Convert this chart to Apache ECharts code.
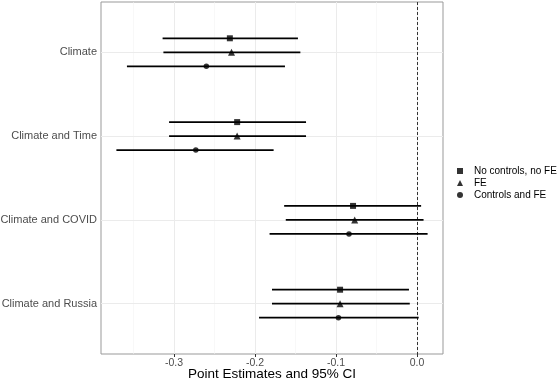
<!DOCTYPE html>
<html>
<head>
<meta charset="utf-8">
<script src="https://cdn.jsdelivr.net/npm/echarts@6/dist/echarts.min.js"></script>
<style>
  html, body { margin: 0; padding: 0; background: #fff; }
  #main { width: 560px; height: 382px; }
</style>
</head>
<body>
<div id="main"></div>
<script>
// categories, top to bottom
var categories = ['Climate', 'Climate and Time', 'Climate and COVID', 'Climate and Russia'];
var models = ['No controls, no FE', 'FE', 'Controls and FE'];
var symbols = ['rect', 'triangle', 'circle'];

// point estimates per model
var estNoFE = [-0.231, -0.222, -0.079, -0.095];
var estFE   = [-0.229, -0.222, -0.077, -0.095];
var estCtrl = [-0.260, -0.273, -0.084, -0.097];
// 95% CI bounds
var loNoFE = [-0.314, -0.306, -0.164, -0.179];
var hiNoFE = [-0.147, -0.137, 0.005, -0.010];
var loFE   = [-0.313, -0.306, -0.162, -0.179];
var hiFE   = [-0.144, -0.137, 0.008, -0.009];
var loCtrl = [-0.358, -0.371, -0.182, -0.195];
var hiCtrl = [-0.163, -0.177, 0.013, 0.002];

var xTicks = [-0.3, -0.2, -0.1, 0.0];
var xMinor = [-0.35, -0.25, -0.15, -0.05];

var est = [estNoFE, estFE, estCtrl];
var lo = [loNoFE, loFE, loCtrl];
var hi = [hiNoFE, hiFE, hiCtrl];
var dodge = [-0.167, 0, 0.167];

var chartDom = document.getElementById('main');
var myChart = echarts.init(chartDom);
var option;

var series = [];

// grid lines (drawn under the marks)
var gridLines = [];
xMinor.forEach(function (v) {
  gridLines.push({ xAxis: v, lineStyle: { color: '#f3f3f3', width: 0.6, type: 'solid' } });
});
xTicks.forEach(function (v) {
  gridLines.push({ xAxis: v, lineStyle: { color: '#ebebeb', width: 1, type: 'solid' } });
});
categories.forEach(function (c, i) {
  gridLines.push({ yAxis: i + 1, lineStyle: { color: '#ebebeb', width: 1, type: 'solid' } });
});

series.push({
  type: 'scatter',
  data: [[0, 0.4]],
  symbolSize: 0,
  silent: true,
  z: 1,
  markLine: {
    z: 1,
    silent: true,
    symbol: 'none',
    label: { show: false },
    animation: false,
    data: gridLines
  }
});

// CI bars
var ciData = [];
models.forEach(function (m, k) {
  categories.forEach(function (c, i) {
    ciData.push([lo[k][i], hi[k][i], i + 1 + dodge[k]]);
  });
});
series.push({
  type: 'custom',
  z: 3,
  silent: true,
  renderItem: function (params, api) {
    var p1 = api.coord([api.value(0), api.value(2)]);
    var p2 = api.coord([api.value(1), api.value(2)]);
    return {
      type: 'line',
      shape: { x1: p1[0], y1: p1[1], x2: p2[0], y2: p2[1] },
      style: { stroke: '#000', lineWidth: 1.8 }
    };
  },
  encode: { x: [0, 1], y: 2 },
  data: ciData,
  markLine: {
    z: 2,
    silent: true,
    symbol: 'none',
    label: { show: false },
    animation: false,
    data: [{ xAxis: 0, lineStyle: { color: '#333', width: 1, type: [3, 2] } }]
  }
});

// point estimates
models.forEach(function (m, k) {
  series.push({
    name: m,
    type: 'scatter',
    z: 4,
    symbol: symbols[k],
    symbolSize: k === 1 ? 7 : (k === 0 ? 6 : 5.5),
    itemStyle: { color: '#000' },
    data: categories.map(function (c, i) {
      return [est[k][i], i + 1 + dodge[k]];
    })
  });
});

option = {
  animation: false,
  backgroundColor: '#fff',
  legend: {
    orient: 'vertical',
    left: 457,
    top: 165,
    padding: 0,
    itemWidth: 6,
    itemHeight: 6,
    itemGap: 0,
    textStyle: { fontFamily: 'Liberation Sans', fontSize: 10, lineHeight: 12, color: '#000', padding: [0, 0, 0, 6] },
    data: models
  },
  grid: {
    left: 101,
    right: 117,
    top: 2,
    bottom: 28,
    outerBoundsMode: 'none',
    show: true,
    borderColor: '#999',
    borderWidth: 1,
    backgroundColor: '#fff'
  },
  xAxis: {
    type: 'value',
    min: -0.39,
    max: 0.032,
    name: 'Point Estimates and 95% CI',
    nameLocation: 'middle',
    nameGap: 13,
    nameMoveOverlap: false,
    nameTextStyle: { fontFamily: 'Liberation Sans', fontSize: 13.5, color: '#000' },
    axisLine: { show: false },
    splitLine: { show: false },
    axisTick: { show: true, length: 3, lineStyle: { color: '#333' }, customValues: xTicks },
    axisLabel: {
      customValues: xTicks,
      margin: 4,
      fontFamily: 'Liberation Sans',
      fontSize: 10.5,
      color: '#4d4d4d',
      formatter: function (v) { return v.toFixed(1); }
    }
  },
  yAxis: {
    type: 'value',
    inverse: true,
    min: 0.4,
    max: 4.6,
    axisLine: { show: false },
    splitLine: { show: false },
    axisTick: { show: true, length: 3, lineStyle: { color: '#333' }, customValues: [1, 2, 3, 4] },
    axisLabel: {
      customValues: [1, 2, 3, 4],
      margin: 4,
      fontFamily: 'Liberation Sans',
      fontSize: 11,
      color: '#4d4d4d',
      formatter: function (v) { return categories[Math.round(v) - 1]; }
    }
  },
  series: series
};

option && myChart.setOption(option);
</script>
</body>
</html>
